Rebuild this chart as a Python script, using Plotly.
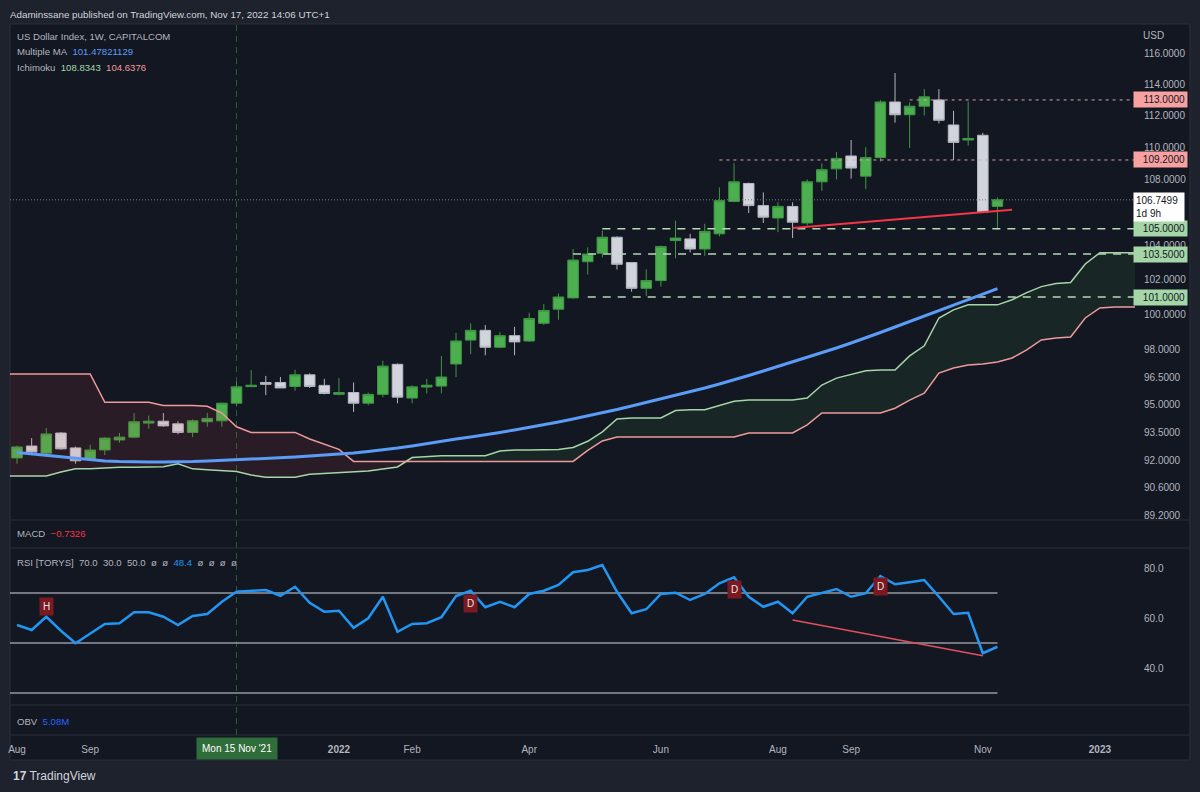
import numpy as np
import plotly.graph_objects as go

# ---------------- data (weekly bars, index 0 = Mon 2 Aug 2021 ... 67 = Mon 14 Nov 2022) ----------------
open_ = [92.15, 92.78, 92.40, 93.47, 92.68, 92.10, 92.57, 93.10, 93.25, 94.00,
         94.10, 93.96, 93.50, 94.07, 94.12, 95.07, 95.97, 96.20, 96.20, 95.98,
         96.62, 96.04, 95.55, 95.65, 95.07, 95.55, 97.20, 95.35, 95.95, 96.00,
         97.22, 98.55, 99.10, 98.15, 98.80, 98.50, 99.50, 100.30, 100.95, 103.05,
         103.55, 104.50, 103.00, 101.50, 101.95, 104.30, 104.40, 103.80, 104.70, 106.65,
         107.75, 106.40, 105.65, 106.35, 105.35, 107.85, 108.65, 109.45, 108.20, 109.35,
         112.87, 112.05, 112.60, 113.00, 111.40, 110.45, 110.75, 106.35]
high = [92.80, 93.20, 93.74, 93.52, 92.75, 92.84, 93.25, 93.47, 94.54, 94.40,
        94.54, 94.10, 94.20, 94.54, 95.10, 96.25, 96.88, 96.56, 96.50, 96.90,
        96.70, 96.40, 96.45, 96.20, 95.65, 97.40, 97.25, 96.05, 96.40, 97.66,
        98.96, 99.50, 99.40, 99.00, 99.30, 100.10, 100.60, 101.20, 103.80, 103.90,
        104.90, 104.55, 103.00, 102.60, 104.00, 105.50, 104.70, 105.30, 107.50, 109.00,
        107.80, 107.20, 106.60, 106.60, 108.00, 109.00, 109.70, 110.45, 110.00, 113.00,
        114.75, 112.85, 113.70, 113.70, 112.30, 112.90, 110.90, 106.90]
low = [91.85, 92.40, 92.35, 92.58, 91.85, 92.00, 92.30, 92.95, 93.20, 93.70,
       93.80, 93.40, 93.25, 93.80, 93.80, 94.90, 95.95, 95.51, 95.90, 95.75,
       95.90, 95.55, 95.50, 94.60, 94.95, 95.40, 95.07, 95.07, 95.60, 95.60,
       96.50, 97.77, 97.70, 98.10, 97.70, 98.45, 99.40, 99.70, 100.90, 102.30,
       103.30, 102.60, 101.30, 101.05, 101.60, 103.25, 103.60, 103.40, 104.55, 106.60,
       105.95, 105.35, 104.80, 104.45, 105.20, 107.30, 108.00, 108.05, 107.40, 109.10,
       111.55, 109.95, 112.00, 111.50, 109.20, 110.10, 105.95, 104.95]
close = [92.73, 92.46, 93.42, 92.63, 92.00, 92.57, 93.20, 93.25, 94.07, 94.10,
         93.85, 93.50, 94.12, 94.25, 95.07, 95.96, 96.05, 96.10, 95.90, 96.62,
         95.98, 95.60, 95.65, 95.07, 95.55, 97.10, 95.40, 95.96, 96.05, 96.50,
         98.50, 99.10, 98.15, 98.80, 98.45, 99.77, 100.23, 101.00, 103.15, 103.50,
         104.50, 102.90, 101.50, 101.95, 103.95, 104.45, 103.80, 104.85, 106.70, 107.85,
         106.40, 105.70, 106.35, 105.40, 107.85, 108.60, 109.30, 108.70, 109.35, 112.87,
         112.05, 112.60, 113.20, 111.70, 110.30, 110.55, 106.00, 106.75]

multiple_ma = [92.44, 92.36, 92.28, 92.20, 92.12, 92.04, 91.99, 91.96, 91.94, 91.94,
               91.94, 91.94, 91.96, 91.99, 92.02, 92.07, 92.09, 92.12, 92.15, 92.20,
               92.25, 92.30, 92.36, 92.41, 92.49, 92.57, 92.67, 92.78, 92.91, 93.04,
               93.15, 93.26, 93.36, 93.50, 93.63, 93.76, 93.90, 94.06, 94.22, 94.38,
               94.54, 94.73, 94.92, 95.11, 95.30, 95.49, 95.68, 95.90, 96.12, 96.34,
               96.58, 96.83, 97.08, 97.33, 97.58, 97.83, 98.11, 98.39, 98.67, 98.98,
               99.29, 99.59, 99.90, 100.22, 100.53, 100.85, 101.16, 101.48]

rsi = [57.2, 55.2, 60.5, 54.9, 49.9, 53.6, 57.6, 57.9, 62.3, 62.3,
       60.5, 57.2, 60.8, 61.6, 66.5, 70.5, 70.9, 71.2, 68.9, 72.5,
       66.1, 62.5, 62.9, 56.1, 59.9, 68.5, 54.5, 57.6, 57.9, 60.3,
       68.8, 70.9, 64.3, 66.5, 64.3, 69.6, 70.9, 73.2, 78.3, 79.2,
       81.2, 70.5, 61.9, 63.5, 69.6, 70.1, 67.2, 69.6, 73.9, 76.3,
       68.5, 64.5, 66.5, 61.9, 68.5, 69.9, 71.6, 68.5, 69.9, 76.8,
       73.5, 74.3, 75.2, 68.5, 61.6, 62.1, 45.9, 48.5]

# Ichimoku leading spans, bar index -1 ... 77 (projected forward)
ichi_first = -1
lead_a = [91.21, 91.21, 91.21, 91.21, 91.42, 91.58, 91.58, 91.63, 91.66, 91.66,
          91.66, 91.69, 91.84, 91.58, 91.53, 91.49, 91.44, 91.26, 91.14, 91.14,
          91.14, 91.30, 91.35, 91.37, 91.42, 91.47, 91.57, 91.68, 92.17, 92.22,
          92.26, 92.26, 92.26, 92.27, 92.52, 92.57, 92.57, 92.57, 92.60, 92.70,
          93.03, 93.53, 94.22, 94.27, 94.27, 94.27, 94.67, 94.72, 94.72, 94.96,
          95.18, 95.24, 95.24, 95.24, 95.24, 95.35, 96.06, 96.44, 96.66, 96.84,
          96.89, 96.89, 97.67, 98.23, 99.80, 100.26, 100.55, 100.55, 100.55, 100.84,
          101.25, 101.60, 101.78, 101.84, 102.92, 103.58, 103.58, 103.58, 103.58]
lead_b = [96.67, 96.67, 96.67, 96.67, 96.67, 96.67, 96.67, 95.12, 95.12, 95.12,
          95.12, 94.95, 94.95, 94.95, 94.90, 94.54, 93.80, 93.50, 93.50, 93.50,
          93.50, 93.15, 92.87, 92.60, 91.97, 91.97, 91.97, 91.97, 91.97, 91.97,
          91.97, 91.97, 91.97, 91.97, 91.97, 91.97, 91.97, 91.97, 91.97, 91.97,
          92.55, 93.05, 93.26, 93.26, 93.26, 93.26, 93.26, 93.26, 93.26, 93.26,
          93.26, 93.47, 93.47, 93.47, 93.47, 93.90, 94.54, 94.54, 94.54, 94.54,
          94.54, 94.80, 95.24, 95.62, 96.72, 97.00, 97.16, 97.22, 97.33, 97.55,
          98.00, 98.56, 98.67, 98.73, 99.80, 100.37, 100.43, 100.43, 100.43]

# horizontal levels drawn on the chart
level_price = [113.0, 109.2, 105.0, 103.5, 101.0]
level_from = [61, 48, 40, 38, 39]
level_kind = ['res', 'res', 'sup', 'sup', 'sup']
last_price = 106.7499
last_countdown = '1d 9h'

trend_idx = [53, 68]
trend_price = [105.05, 106.15]
rsi_div_idx = [53, 66]
rsi_div_val = [59.2, 44.9]
rsi_levels = [70.0, 50.0, 30.0]

pivot_idx = [2, 31, 49, 59]
pivot_val = [64.8, 66.0, 71.6, 72.6]
pivot_txt = ['H', 'D', 'D', 'D']

crosshair_idx = 15
crosshair_txt = "Mon 15 Nov '21"

tick_idx = [0, 5, 13, 22, 27, 35, 44, 52, 57, 66, 74]
tick_txt = ['Aug', 'Sep', 'Nov', '<b>2022</b>', 'Feb', 'Apr', 'Jun', 'Aug', 'Sep', 'Nov', '<b>2023</b>']
price_ticks = [89.2, 90.6, 92.0, 93.5, 95.0, 96.5, 98.0, 100.0, 102.0, 104.0, 108.0, 110.0, 112.0, 114.0, 116.0]
rsi_ticks = [40.0, 60.0, 80.0]

# ---------------- styling / geometry ----------------
BG = '#131722'
OUTER = '#1e222d'
TXT = '#b2b5be'
LIGHT = '#d1d4dc'
SEP = '#2a2e39'
FONT = "Liberation Sans, Arial, sans-serif"
FS = 10
FL = 9.6

W, H = 1200, 792
ML, MR, MT, MB = 8, 65, 25, 57
PW = W - ML - MR
PH = H - MT - MB


def pxx(px):
    return (px - ML) / PW


def pxy(py):
    return (H - MB - py) / PH


bars = list(range(len(close)))
ichi_x = list(range(ichi_first, ichi_first + len(lead_a)))
x_range = [-0.48, 76.4]
main_range = [np.log10(88.95), np.log10(117.93)]

fig = go.Figure()

common = dict(hoverinfo='skip', showlegend=False)

# Ichimoku cloud
hi = np.maximum(lead_a, lead_b)
lo = np.minimum(lead_a, lead_b)
fig.add_trace(go.Scatter(x=ichi_x, y=lead_b, mode='lines', line=dict(width=0), **common))
fig.add_trace(go.Scatter(x=ichi_x, y=hi, mode='lines', line=dict(width=0), fill='tonexty',
                         fillcolor='rgba(76,175,80,0.10)', **common))
fig.add_trace(go.Scatter(x=ichi_x, y=lead_b, mode='lines', line=dict(width=0), **common))
fig.add_trace(go.Scatter(x=ichi_x, y=lo, mode='lines', line=dict(width=0), fill='tonexty',
                         fillcolor='rgba(239,83,80,0.10)', **common))
fig.add_trace(go.Scatter(x=ichi_x, y=lead_a, mode='lines', line=dict(color='#a5d6a7', width=1.5), **common))
fig.add_trace(go.Scatter(x=ichi_x, y=lead_b, mode='lines', line=dict(color='#ef9a9a', width=1.5), **common))

# current price dotted line
fig.add_trace(go.Scatter(x=x_range, y=[last_price, last_price], mode='lines',
                         line=dict(color='#787b86', width=1, dash='1px,2px'), **common))

# level lines
for v, s, k in zip(level_price, level_from, level_kind):
    if k == 'res':
        ln = dict(color='#e3a1a8', width=1, dash='3px,4px')
    else:
        ln = dict(color='#b5d8b6', width=1.5, dash='8px,7px')
    fig.add_trace(go.Scatter(x=[s, x_range[1]], y=[v, v], mode='lines', line=ln, **common))

# Multiple MA
fig.add_trace(go.Scatter(x=bars, y=multiple_ma, mode='lines', line=dict(color='#5b9cf6', width=3), **common))

# trend line
fig.add_trace(go.Scatter(x=trend_idx, y=trend_price, mode='lines', line=dict(color='#f23645', width=2), **common))

# candles
fig.add_trace(go.Candlestick(
    x=bars, open=open_, high=high, low=low, close=close,
    increasing=dict(line=dict(color='#3f9743', width=1), fillcolor='#4caf50'),
    decreasing=dict(line=dict(color='#b4b7bf', width=1), fillcolor='#d1d4dc'),
    whiskerwidth=0, hoverinfo='skip', showlegend=False))

# RSI pane
for lv in rsi_levels:
    fig.add_trace(go.Scatter(x=[x_range[0], bars[-1]], y=[lv, lv], mode='lines',
                             line=dict(color='#9598a1', width=1.5), yaxis='y3', **common))
fig.add_trace(go.Scatter(x=bars, y=rsi, mode='lines', line=dict(color='#2196f3', width=2.5),
                         yaxis='y3', **common))
fig.add_trace(go.Scatter(x=rsi_div_idx, y=rsi_div_val, mode='lines', line=dict(color='#e0505e', width=1.5),
                         yaxis='y3', **common))

# OBV pane placeholder (anchors the time axis)
fig.add_trace(go.Scatter(x=[0], y=[0.5], mode='markers', marker=dict(opacity=0), yaxis='y4', **common))

# ---------------- annotations ----------------
ann = []


def label(text, px, py, size=FL, color=TXT):
    ann.append(dict(text=text, x=pxx(px), y=pxy(py), xref='paper', yref='paper', xanchor='left',
                    yanchor='middle', showarrow=False, borderpad=0, font=dict(size=size, color=color)))


NB = '\u00a0'
label('Adaminssane published on TradingView.com, Nov 17, 2022 14:06 UTC+1', 7, 14, 9.8, LIGHT)
legend_lines = [
    'US Dollar Index, 1W, CAPITALCOM',
    'Multiple MA' + NB * 2 + '<span style="color:#5b9cf6">101.47821129</span>',
    'Ichimoku' + NB * 2 + '<span style="color:#a5d6a7">108.8343</span>' + NB * 2 +
    '<span style="color:#ef9a9a">104.6376</span>',
]
for i, t in enumerate(legend_lines):
    label(t, 14, 37 + 15 * i)
label('USD', 1142, 36, FS)
label('MACD' + NB * 2 + '<span style="color:#f23645">\u22120.7326</span>', 14, 533)
label('RSI [TORYS]' + NB * 2 + '70.0' + NB * 2 + '30.0' + NB * 2 + '50.0' + NB * 2 + 'ø' + NB * 2 +
      'ø' + NB * 2 + '<span style="color:#2196f3">48.4</span>' + NB * 2 + 'ø' + NB * 2 + 'ø' + NB * 2 +
      'ø' + NB * 2 + 'ø', 14, 562)
label('OBV' + NB * 2 + '<span style="color:#2962ff">5.08M</span>', 14, 721)

# price labels on the axis
for v, k in zip(level_price, level_kind):
    ann.append(dict(text=f'{v:.4f}', x=pxx(1133), y=np.log10(v), xref='paper', yref='y',
                    xanchor='left', yanchor='middle', showarrow=False, width=49, align='right',
                    borderpad=2, bgcolor='#f7a1a1' if k == 'res' else '#a5d6a7',
                    font=dict(size=FS, color='#131722')))
ann.append(dict(text=f'{last_price:.4f}<br>{last_countdown}', x=pxx(1133), y=np.log10(last_price),
                xref='paper', yref='y', xanchor='left', yanchor='top', yshift=8, showarrow=False,
                width=46, align='left', borderpad=2, bgcolor='#ffffff',
                font=dict(size=FS, color='#131722')))

# RSI pivot labels
for xi, yv, t in zip(pivot_idx, pivot_val, pivot_txt):
    ann.append(dict(text=t, x=xi, y=yv, xref='x', yref='y3', xanchor='center', yanchor='middle',
                    showarrow=False, bgcolor='#7a1a20', borderpad=3,
                    font=dict(size=10, color='#e6e6e6')))

# crosshair time label
ann.append(dict(text=crosshair_txt, x=crosshair_idx, y=pxy(748), xref='x', yref='paper',
                xanchor='center', yanchor='middle', showarrow=False, bgcolor='#2f6d3a', borderpad=5,
                font=dict(size=FS, color='#ffffff')))

# footer logo text
label('<b>17</b> TradingView', 10, 776, 12, LIGHT)

# ---------------- shapes ----------------
shapes = [
    dict(type='rect', xref='paper', yref='paper', x0=pxx(8), x1=pxx(1190), y0=pxy(760), y1=pxy(24),
         fillcolor=BG, line=dict(color=SEP, width=1), layer='below'),
    dict(type='line', xref='x', yref='paper', x0=crosshair_idx, x1=crosshair_idx, y0=0, y1=1,
         line=dict(color='#2f5a38', width=1, dash='6px,5px'), layer='below'),
]
for py in [520, 548, 705, 735]:
    shapes.append(dict(type='line', xref='paper', yref='paper', x0=pxx(8), x1=pxx(1190), y0=pxy(py), y1=pxy(py),
                       line=dict(color=SEP, width=1)))

fig.update_layout(
    width=W, height=H,
    margin=dict(l=ML, r=MR, t=MT, b=MB, pad=0),
    paper_bgcolor=OUTER, plot_bgcolor='rgba(0,0,0,0)',
    font=dict(family=FONT, color=TXT, size=FS),
    showlegend=False, boxgap=0.15, boxgroupgap=0.15,
    annotations=ann, shapes=shapes,
    xaxis=dict(domain=[0, 1], anchor='y4', range=x_range, tickmode='array', tickvals=tick_idx,
               ticktext=tick_txt, showgrid=False, zeroline=False, showline=False, ticks='',
               tickfont=dict(size=FS, color=TXT), rangeslider=dict(visible=False), ticklabelstandoff=7),
    yaxis=dict(domain=[pxy(520), 1], anchor='x', type='log', range=main_range, side='right',
               tickmode='array', tickvals=price_ticks, ticktext=[f'{v:.4f}' for v in price_ticks],
               showgrid=False, zeroline=False, showline=False, ticks='', ticklabelstandoff=8,
               tickfont=dict(size=FS, color=TXT)),
    yaxis3=dict(domain=[pxy(705), pxy(548)], anchor='x', range=[25.2, 88.0], side='right',
                tickmode='array', tickvals=rsi_ticks, ticktext=[f'{v:.1f}' for v in rsi_ticks],
                showgrid=False, zeroline=False, showline=False, ticks='', ticklabelstandoff=8,
                tickfont=dict(size=FS, color=TXT)),
    yaxis4=dict(domain=[0, pxy(705)], anchor='x', range=[0, 1], showticklabels=False,
                showgrid=False, zeroline=False, showline=False),
)

fig.write_html('out.html', config=dict(displayModeBar=False))
